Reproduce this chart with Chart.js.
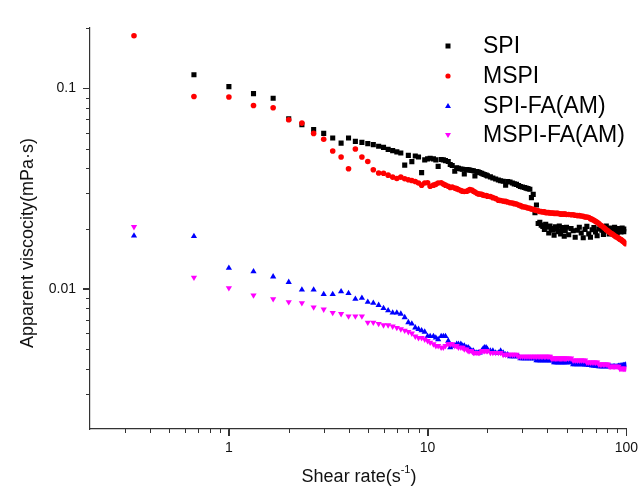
<!DOCTYPE html>
<html>
<head>
<meta charset="utf-8">
<script src="https://cdn.jsdelivr.net/npm/chart.js@4.4.0/dist/chart.umd.min.js"></script>
<style>
  html, body { margin: 0; padding: 0; background: #fff; }
  #wrap { width: 642px; height: 489px; }
</style>
</head>
<body>
<div id="wrap"><canvas id="viscChart" width="642" height="489"></canvas></div>
<script>
// shear rate (1/s), same sweep for every sample
const shearRate = [
  0.333, 0.667, 1, 1.33, 1.67, 2, 2.33, 2.67, 3, 3.33,
  3.67, 4, 4.33, 4.67, 5, 5.33, 5.67, 6, 6.33, 6.67,
  7, 7.33, 7.67, 8, 8.33, 8.67, 9, 9.33, 9.67, 10,
  10.3, 10.7, 11, 11.3, 11.7, 12, 12.3, 12.7, 13, 13.3,
  13.7, 14, 14.3, 14.7, 15, 15.3, 15.7, 16, 16.3, 16.7,
  17, 17.3, 17.7, 18, 18.3, 18.7, 19, 19.3, 19.7, 20,
  20.7, 21.3, 22, 22.7, 23.3, 24, 24.7, 25.3, 26, 26.7,
  27.3, 28, 28.7, 29.3, 30, 30.7, 31.3, 32, 32.7, 33.3,
  34, 34.7, 35.3, 36, 36.7, 37.3, 38, 38.7, 39.3, 40,
  40.7, 41.3, 42, 42.7, 43.3, 44, 44.7, 45.3, 46, 46.7,
  47.3, 48, 48.7, 49.3, 50, 51.3, 52.7, 54, 55.3, 56.7,
  58, 59.3, 60.7, 62, 63.3, 64.7, 66, 67.3, 68.7, 70,
  71.3, 72.7, 74, 75.3, 76.7, 78, 79.3, 80.7, 82, 83.3,
  84.7, 86, 87.3, 88.7, 90, 91.3, 92.7, 94, 95.3, 96.7,
  98, 99.3
];

const spi = [
  null, 0.117, 0.102, 0.0941, 0.0892, 0.0705, 0.0658, 0.0624, 0.0596, 0.0565,
  0.0533, 0.0565, 0.0544, 0.0538, 0.0530, 0.0524, 0.0514, 0.0508, 0.0496, 0.0489,
  0.0482, 0.0476, 0.0414, 0.0463, 0.0431, 0.0460, 0.0455, 0.0380, 0.0440, 0.0445,
  0.0448, 0.0445, 0.0440, 0.0408, 0.0442, 0.0440, 0.0436, 0.0432, 0.0417, 0.0412,
  0.0386, 0.0402, 0.0399, 0.0396, 0.0395, 0.0374, 0.0394, 0.0393, 0.0391, 0.0389,
  0.0388, 0.0366, 0.0385, 0.0382, 0.0380, 0.0377, 0.0374, 0.0372, 0.0369, 0.0366,
  0.0362, 0.0357, 0.0353, 0.0349, 0.0346, 0.0344, 0.0329, 0.0343, 0.0341, 0.0337,
  0.0334, 0.0332, 0.0328, 0.0324, 0.0322, 0.0320, 0.0318, 0.0316, 0.0314, 0.0285,
  0.0296, 0.0240, 0.0262, 0.0212, 0.0215, 0.0208, 0.0205, 0.0198, 0.0210, 0.0203,
  0.0190, 0.0206, 0.0200, 0.0196, 0.0185, 0.0204, 0.0199, 0.0193, 0.0206, 0.0188,
  0.0198, 0.0202, 0.0183, 0.0195, 0.0203, 0.0186, 0.0200, 0.0195, 0.0181, 0.0196,
  0.0203, 0.0190, 0.0180, 0.0198, 0.0205, 0.0188, 0.0181, 0.0197, 0.0202, 0.0192,
  0.0184, 0.0199, 0.0205, 0.0196, 0.0187, 0.0200, 0.0206, 0.0195, 0.0188, 0.0201,
  0.0197, 0.0191, 0.0203, 0.0198, 0.0190, 0.0200, 0.0196, 0.0192, 0.0201, 0.0197,
  0.0193, 0.0199
];

const mspi = [
  0.183, 0.0910, 0.0906, 0.0821, 0.0800, 0.0697, 0.0671, 0.0596, 0.0557, 0.0487,
  0.0455, 0.0397, 0.0498, 0.0455, 0.0432, 0.0393, 0.0378, 0.0377, 0.0369, 0.0361,
  0.0355, 0.0361, 0.0354, 0.0350, 0.0347, 0.0343, 0.0337, 0.0329, 0.0337, 0.0338,
  0.0325, 0.0329, 0.0332, 0.0337, 0.0338, 0.0333, 0.0329, 0.0325, 0.0320, 0.0322,
  0.0318, 0.0316, 0.0313, 0.0309, 0.0307, 0.0306, 0.0307, 0.0309, 0.0313, 0.0311,
  0.0307, 0.0304, 0.0300, 0.0297, 0.0297, 0.0296, 0.0294, 0.0292, 0.0292, 0.0290,
  0.0289, 0.0285, 0.0282, 0.0277, 0.0276, 0.0274, 0.0273, 0.0271, 0.0269, 0.0268,
  0.0266, 0.0265, 0.0262, 0.0260, 0.0257, 0.0256, 0.0255, 0.0253, 0.0252, 0.0250,
  0.0249, 0.0247, 0.0246, 0.0245, 0.0243, 0.0243, 0.0242, 0.0242, 0.0240, 0.0240,
  0.0240, 0.0239, 0.0239, 0.0239, 0.0238, 0.0238, 0.0238, 0.0238, 0.0237, 0.0236,
  0.0236, 0.0236, 0.0236, 0.0236, 0.0235, 0.0235, 0.0234, 0.0234, 0.0233, 0.0232,
  0.0232, 0.0231, 0.0230, 0.0228, 0.0228, 0.0227, 0.0224, 0.0222, 0.0220, 0.0217,
  0.0215, 0.0212, 0.0208, 0.0206, 0.0203, 0.0200, 0.0197, 0.0195, 0.0192, 0.0190,
  0.0188, 0.0186, 0.0184, 0.0182, 0.0181, 0.0179, 0.0177, 0.0176, 0.0174, 0.0172,
  0.0170, 0.0168
];

const spiFa = [
  0.0184, 0.0183, 0.0127, 0.0122, 0.0115, 0.0108, 0.0099, 0.0099, 0.0094, 0.0094,
  0.0097, 0.0095, 0.0089, 0.0090, 0.0086, 0.0085, 0.0083, 0.0080, 0.0078, 0.0076,
  0.0076, 0.0075, 0.0072, 0.0068, 0.0067, 0.0064, 0.0063, 0.0062, 0.0061, 0.0058,
  0.0058, 0.0058, 0.0057, 0.0056, 0.0058, 0.0058, 0.0058, 0.0055, 0.0051, 0.0052,
  0.0052, 0.0053, 0.0053, 0.0053, 0.0052, 0.0052, 0.0051, 0.0051, 0.0050, 0.0049,
  0.0049, 0.0048, 0.0048, 0.0048, 0.0048, 0.0049, 0.0050, 0.0051, 0.0051, 0.0050,
  0.0049, 0.0049, 0.0048, 0.0048, 0.0049, 0.0048, 0.0047, 0.0047, 0.0046, 0.0046,
  0.0046, 0.0046, 0.0046, 0.0045, 0.0045, 0.0045, 0.0045, 0.0045, 0.0045, 0.0045,
  0.0045, 0.0045, 0.0044, 0.0044, 0.0044, 0.0044, 0.0044, 0.0044, 0.0044, 0.0044,
  0.0044, 0.0044, 0.0044, 0.0044, 0.0043, 0.0043, 0.0043, 0.0043, 0.0043, 0.0043,
  0.0043, 0.0043, 0.0043, 0.0043, 0.0043, 0.0043, 0.0043, 0.0042, 0.0042, 0.0042,
  0.0042, 0.0042, 0.0042, 0.00418, 0.00418, 0.00416, 0.00416, 0.00414, 0.00414, 0.00412,
  0.00412, 0.0041, 0.0041, 0.0041, 0.0041, 0.0041, 0.0041, 0.0041, 0.0041, 0.0041,
  0.0041, 0.0041, 0.0041, 0.0041, 0.0041, 0.00412, 0.00412, 0.00414, 0.00414, 0.00416,
  0.00416, 0.00418
];

const mspiFa = [
  0.0204, 0.0114, 0.0101, 0.0093, 0.0089, 0.0086, 0.0085, 0.0081, 0.0079, 0.0076,
  0.0075, 0.0073, 0.0073, 0.0073, 0.0068, 0.0068, 0.0067, 0.0066, 0.0066, 0.0065,
  0.0064, 0.0063, 0.0062, 0.0061, 0.0060, 0.0058, 0.0057, 0.0057, 0.0056, 0.0055,
  0.0054, 0.0053, 0.0052, 0.0052, 0.0051, 0.0051, 0.0052, 0.0053, 0.0053, 0.0053,
  0.0052, 0.0052, 0.0051, 0.0051, 0.0051, 0.0050, 0.0050, 0.0049, 0.0049, 0.0049,
  0.0048, 0.0048, 0.0048, 0.0048, 0.0048, 0.0049, 0.0049, 0.0049, 0.0049, 0.0049,
  0.0048, 0.0048, 0.0048, 0.0048, 0.0048, 0.0047, 0.0047, 0.0047, 0.0047, 0.0047,
  0.0047, 0.0047, 0.0046, 0.0046, 0.0046, 0.0046, 0.0046, 0.0046, 0.0046, 0.0046,
  0.0046, 0.0046, 0.0046, 0.0046, 0.0046, 0.0046, 0.0046, 0.0046, 0.0046, 0.0046,
  0.0046, 0.0046, 0.0045, 0.0045, 0.0045, 0.0045, 0.0045, 0.0045, 0.0045, 0.0045,
  0.0045, 0.0045, 0.0045, 0.0045, 0.0045, 0.0045, 0.0045, 0.0044, 0.0044, 0.0044,
  0.0044, 0.0044, 0.0044, 0.0044, 0.0043, 0.0043, 0.0043, 0.0043, 0.0043, 0.0043,
  0.0043, 0.0042, 0.0042, 0.0042, 0.0042, 0.0042, 0.0042, 0.0042, 0.0041, 0.0041,
  0.0041, 0.0041, 0.0041, 0.0041, 0.0041, 0.0041, 0.0040, 0.0040, 0.0040, 0.0040,
  0.0040, 0.0040
];

const seriesNames = ['SPI', 'MSPI', 'SPI-FA(AM)', 'MSPI-FA(AM)'];
const seriesColors = ['#000000', '#ff0000', '#0000ff', '#ff00ff'];

const xMajorTicks = [1, 10, 100];
const xMinorTicks = [0.3, 0.4, 0.5, 0.6, 0.7, 0.8, 0.9, 2, 3, 4, 5, 6, 7, 8, 9, 20, 30, 40, 50, 60, 70, 80, 90];
const yMajorTicks = [0.01, 0.1];
const yMinorTicks = [0.003, 0.004, 0.005, 0.006, 0.007, 0.008, 0.009, 0.02, 0.03, 0.04, 0.05, 0.06, 0.07, 0.08, 0.09, 0.2];

const axisColor = '#333333';
const fontFamily = '"Liberation Sans", Arial, sans-serif';

function toPoints(values) {
    const pts = [];
    values.forEach((v, i) => {
        if (v !== null) pts.push({ x: shearRate[i], y: v });
    });
    return pts;
}

// tick marks (major + minor), axis titles and legend
const extrasPlugin = {
    id: 'extras',
    afterDraw(chart) {
        const ctx = chart.ctx;
        const xs = chart.scales.x;
        const ys = chart.scales.y;
        const area = chart.chartArea;
        ctx.save();
        ctx.strokeStyle = axisColor;
        ctx.lineWidth = 1;
        const xTick = (v, len) => {
            const p = Math.round(xs.getPixelForValue(v)) + 0.5;
            ctx.beginPath();
            ctx.moveTo(p, area.bottom);
            ctx.lineTo(p, area.bottom + len);
            ctx.stroke();
        };
        const yTick = (v, len) => {
            const p = Math.round(ys.getPixelForValue(v)) + 0.5;
            ctx.beginPath();
            ctx.moveTo(area.left, p);
            ctx.lineTo(area.left - len, p);
            ctx.stroke();
        };
        xMinorTicks.forEach(v => xTick(v, 4));
        xMajorTicks.forEach(v => xTick(v, 7));
        yMinorTicks.forEach(v => yTick(v, 4));
        yMajorTicks.forEach(v => yTick(v, 7));

        // axis titles
        ctx.fillStyle = '#111';
        ctx.font = '18px ' + fontFamily;
        ctx.textBaseline = 'middle';
        ctx.save();
        ctx.translate(28, 243);
        ctx.rotate(-Math.PI / 2);
        ctx.textAlign = 'center';
        ctx.fillText('Apparent viscocity(mPa·s)', 0, 0);
        ctx.restore();

        const main = 'Shear rate(s';
        const sup = '-1';
        const tail = ')';
        ctx.font = '18px ' + fontFamily;
        const wMain = ctx.measureText(main).width;
        const wTail = ctx.measureText(tail).width;
        ctx.font = '11px ' + fontFamily;
        const wSup = ctx.measureText(sup).width;
        let tx = 359 - (wMain + wSup + wTail) / 2;
        ctx.textAlign = 'left';
        ctx.font = '18px ' + fontFamily;
        ctx.fillText(main, tx, 477);
        tx += wMain;
        ctx.font = '11px ' + fontFamily;
        ctx.fillText(sup, tx, 470);
        tx += wSup;
        ctx.font = '18px ' + fontFamily;
        ctx.fillText(tail, tx, 477);

        // legend
        const legX = 448, textX = 483;
        const rowsY = [46, 76, 106, 135];
        ctx.font = '23px ' + fontFamily;
        seriesNames.forEach((name, i) => {
            const cy = rowsY[i];
            ctx.fillStyle = seriesColors[i];
            ctx.beginPath();
            if (i === 0) {
                ctx.rect(legX - 2.5, cy - 2.5, 5, 5);
            } else if (i === 1) {
                ctx.arc(legX, cy, 2.6, 0, Math.PI * 2);
            } else if (i === 2) {
                ctx.moveTo(legX, cy - 3);
                ctx.lineTo(legX + 3, cy + 2);
                ctx.lineTo(legX - 3, cy + 2);
                ctx.closePath();
            } else {
                ctx.moveTo(legX, cy + 3);
                ctx.lineTo(legX + 3, cy - 2);
                ctx.lineTo(legX - 3, cy - 2);
                ctx.closePath();
            }
            ctx.fill();
            ctx.fillStyle = '#000';
            ctx.textAlign = 'left';
            ctx.fillText(name, textX, cy + 1);
        });
        ctx.restore();
    }
};

const ctx = document.getElementById('viscChart');
new Chart(ctx, {
    type: 'scatter',
    data: {
        datasets: [
            {
                label: seriesNames[0], data: toPoints(spi), order: 4,
                pointStyle: 'rect', pointRadius: 3.6, borderWidth: 0,
                backgroundColor: seriesColors[0], borderColor: seriesColors[0]
            },
            {
                label: seriesNames[1], data: toPoints(mspi), order: 3,
                pointStyle: 'circle', pointRadius: 2.8, borderWidth: 0,
                backgroundColor: seriesColors[1], borderColor: seriesColors[1]
            },
            {
                label: seriesNames[2], data: toPoints(spiFa), order: 2,
                pointStyle: 'triangle', pointRadius: 3.6, borderWidth: 0,
                backgroundColor: seriesColors[2], borderColor: seriesColors[2]
            },
            {
                label: seriesNames[3], data: toPoints(mspiFa), order: 1,
                pointStyle: 'triangle', rotation: 180, pointRadius: 3.6, borderWidth: 0,
                backgroundColor: seriesColors[3], borderColor: seriesColors[3]
            }
        ]
    },
    options: {
        responsive: false,
        animation: false,
        devicePixelRatio: 1,
        layout: { padding: { left: 0, right: 14, top: 28, bottom: 0 } },
        plugins: {
            legend: { display: false },
            tooltip: { enabled: false }
        },
        scales: {
            x: {
                type: 'logarithmic',
                min: 0.2,
                max: 100,
                afterBuildTicks: scale => { scale.ticks = xMajorTicks.map(v => ({ value: v })); },
                afterFit: scale => { scale.height = 60; },
                border: { display: true, color: axisColor, width: 1.2 },
                grid: { drawOnChartArea: false, tickLength: 7, color: axisColor, tickColor: axisColor },
                ticks: {
                    color: '#111',
                    padding: 4,
                    maxRotation: 0,
                    autoSkip: false,
                    font: { family: fontFamily, size: 14 },
                    callback: v => String(v)
                }
            },
            y: {
                type: 'logarithmic',
                min: 0.002,
                max: 0.2,
                afterBuildTicks: scale => { scale.ticks = yMajorTicks.map(v => ({ value: v })); },
                afterFit: scale => { scale.width = 90; },
                border: { display: true, color: axisColor, width: 1.2 },
                grid: { drawOnChartArea: false, tickLength: 7, color: axisColor, tickColor: axisColor },
                ticks: {
                    color: '#111',
                    padding: 7,
                    autoSkip: false,
                    font: { family: fontFamily, size: 14 },
                    callback: v => String(v)
                }
            }
        }
    },
    plugins: [extrasPlugin]
});
</script>
</body>
</html>
